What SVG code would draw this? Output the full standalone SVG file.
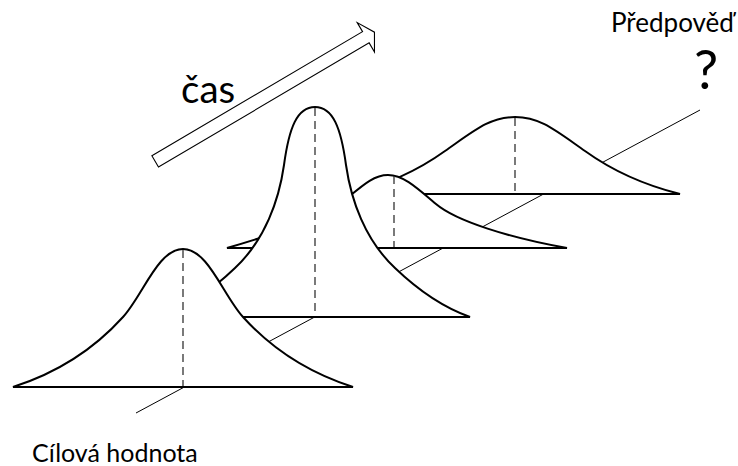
<svg xmlns="http://www.w3.org/2000/svg" width="738" height="466" viewBox="0 0 738 466">
<style>
.curve{fill:#fff;stroke:#000;stroke-width:2;stroke-linejoin:miter}
.mean{fill:none;stroke:#333;stroke-width:1.3;stroke-dasharray:8 5}
.axis{fill:none;stroke:#000;stroke-width:1}
.lbl{font-family:Lato,"Open Sans","Liberation Sans",sans-serif;fill:#000}
</style>
<rect width="738" height="466" fill="#fff"/>
<g id="connectors">
<line class="axis" x1="136" y1="413" x2="700" y2="110"/>
</g>
<g id="arrow-time">
<polygon transform="translate(340,52.5) rotate(-30.5)" points="-214.5,-6.5 30,-6.5 30,-17 40,0 30,17 30,6.5 -214.5,6.5" fill="#fff" stroke="#000" stroke-width="1.1"/>
<text class="lbl" x="181" y="103" font-size="38.5">čas</text>
</g>
<g id="dist4">
<path class="curve" d="M350,194 C390,184 420,169 445,151 C475,130 490,117 515,117 C540,117 555,130 585,151 C610,169 640,184 680,194 Z"/>
<line class="mean" x1="515" y1="118" x2="515" y2="193"/>
</g>
<g id="dist3">
<path class="curve" d="M227,248 C262,238 312,222 340,204 C360,188 372,175 388,175 C403,175 416,187 436,204 C456,221 510,238 567,248 Z"/>
<line class="mean" x1="394" y1="176" x2="394" y2="247"/>
</g>
<g id="dist2">
<path class="curve" d="M160,317 C185,308 210,292 235,268 C265,240 279,200 284,165 C289,128 297,107 315,107 C333,107 341,128 346,165 C351,200 365,240 395,268 C420,292 445,308 470,317 Z"/>
<line class="mean" x1="315" y1="108" x2="315" y2="316"/>
</g>
<g id="dist1">
<path class="curve" d="M13,387 C60,372 95,348 123,317 C143,295 158,249 183,249 C208,249 223,295 243,317 C271,348 306,372 353,387 Z"/>
<line class="mean" x1="183" y1="250" x2="183" y2="386"/>
</g>
<g id="label-prediction">
<text class="lbl" x="611" y="32" font-size="26">Předpověď</text>
<text class="lbl" x="694" y="89" font-size="54">?</text>
</g>
<g id="label-target">
<text class="lbl" x="32" y="462" font-size="25">Cílová hodnota</text>
</g>
</svg>
